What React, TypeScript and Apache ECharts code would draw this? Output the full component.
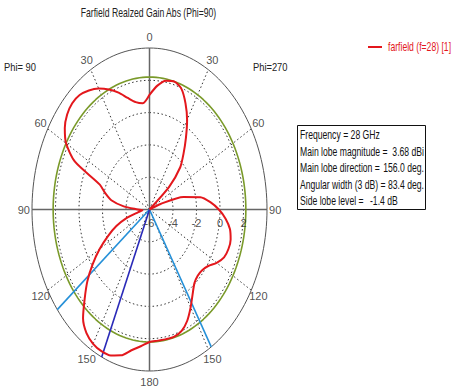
import React, { useEffect, useRef } from "react";
import * as echarts from "echarts";

// ---- data ----
const titleText = "Farfield Realzed Gain Abs (Phi=90)";
const seriesName = "farfield (f=28) [1]";
const centerGain = -6; // gain at the plot centre
const outerGain = 4; // gain at the outer ellipse
const ringGains = [-4, -2, 0, 2];
const radialTickGains = [-6, -4, -2, 0, 2];
const radialTickLabels = ["-6", "-4", "-2", "0", "2"];
const solidSpokeAngles = [0, 90, 180, 270];
const dottedSpokeAngles = [30, 60, 120, 150, 210, 240, 300, 330];
const angleTickAngles = [0, 30, 60, 90, 120, 150, 180, 210, 240, 270, 300, 330];
const angleTickLabels = ["0", "30", "60", "90", "120", "150", "180", "150", "120", "90", "60", "30"];
// pattern: angle clockwise from top (right half = Phi 270, left half = Phi 90)
const patternAngles = [
  0, 5, 10, 15, 20, 25, 30, 35, 40, 45, 50, 55, 60, 65, 70, 75, 80, 85, 90, 95,
  100, 105, 110, 115, 120, 125, 130, 135, 140, 145, 150, 155, 160, 165, 170, 175,
  180, 185, 190, 195, 200, 205, 210, 215, 220, 225, 230, 235, 240, 245, 250, 255,
  260, 265, 270, 275, 280, 285, 290, 295, 300, 305, 310, 315, 320, 325, 330, 335,
  340, 345, 350, 355,
];
const patternGain = [
  1.1, 1.7, 2.1, 2.2, 1.95, 1.25, 0.4, -0.6, -1.5, -2.3, -3.8, -6, -6, -6, -5.0, -3.0, -1.6, -0.8, -0.1, 0.5,
  0.95, 1.15, 1.15, 1.0, 0.6, 0.1, -0.15, -0.2, -0.05, 0.4, 1.0, 1.6, 2.0, 2.15, 2.15, 2.15,
  2.2, 2.5, 2.85, 3.35, 3.62, 3.68, 3.6, 3.35, 2.8, 1.8, 0.9, -0.1, -1.1, -2.1, -3.0, -4.0,
  -5.0, -5.4, -5.0, -3.8, -2.7, -2.1, -1.5, 1.0, 2.2, 2.8, 3.15, 3.3, 3.25, 3.0, 2.65, 2.2,
  1.7, 1.15, 0.75, 0.6,
];
const levelGain = 2.2; // green reference circle
const mainLobeAngle = 204;
const beamEdgeAngles = [148.3, 231.7];
const phiLabels = ["Phi= 90", "Phi=270"];
const infoLabels = ["Frequency = 28 GHz", "Main lobe magnitude =", "Main lobe direction =", "Angular width (3 dB) =", "Side lobe level ="];
const infoValues = ["", "3.68 dBi", "156.0 deg.", "83.4 deg.", "-1.4 dB"];

const FONT = "'Liberation Sans', Arial, sans-serif";
const RED = "#e3171c";

const rOf = (g: number) => Math.max(0, g - centerGain);
const pt = (angleDeg: number, r: number) => {
  const a = (angleDeg * Math.PI) / 180;
  return [r * Math.sin(a), r * Math.cos(a)];
};
const circle = (r: number) => {
  const out: number[][] = [];
  for (let a = 0; a <= 360; a += 2) out.push(pt(a, r));
  return out;
};

export default function App() {
  const ref = useRef<HTMLDivElement>(null);
  useEffect(() => {
    if (!ref.current) return;
    const chart = echarts.init(ref.current, null, { renderer: "svg" });
    const R = outerGain - centerGain;

    const series: any[] = [];
    ringGains.forEach((g) => {
      series.push({
        type: "line", data: circle(rOf(g)), showSymbol: false, silent: true, clip: false,
        lineStyle: { color: "#333", width: 1, type: [1.5, 2.5] }, z: 1,
      });
    });
    series.push({
      type: "line", data: circle(R), showSymbol: false, silent: true, clip: false,
      lineStyle: { color: "#555", width: 1 }, z: 1,
    });
    dottedSpokeAngles.forEach((a) => {
      series.push({
        type: "line", data: [[0, 0], pt(a, R)], showSymbol: false, silent: true, clip: false,
        lineStyle: { color: "#333", width: 1, type: [1.5, 2.5] }, z: 1,
      });
    });
    solidSpokeAngles.forEach((a) => {
      series.push({
        type: "line", data: [[0, 0], pt(a, R)], showSymbol: false, silent: true, clip: false,
        lineStyle: { color: "#666", width: 1.5 }, z: 2,
      });
    });
    series.push({
      type: "line", data: circle(rOf(levelGain)), showSymbol: false, silent: true, clip: false,
      lineStyle: { color: "#7a9a2a", width: 1.6 }, z: 3,
    });
    beamEdgeAngles.forEach((a) => {
      series.push({
        type: "line", data: [[0, 0], pt(a, R)], showSymbol: false, silent: true, clip: false,
        lineStyle: { color: "#2590d8", width: 1.6 }, z: 4,
      });
    });
    series.push({
      type: "line", data: [[0, 0], pt(mainLobeAngle, R)], showSymbol: false, silent: true, clip: false,
      lineStyle: { color: "#2a2ab8", width: 1.6 }, z: 4,
    });
    const patData = patternAngles.map((a, i) => pt(a, rOf(patternGain[i])));
    patData.push(patData[0]);
    series.push({
      name: seriesName, type: "line", data: patData, showSymbol: false, clip: false, smooth: 0.25,
      lineStyle: { color: RED, width: 2 }, itemStyle: { color: RED }, z: 5,
    });
    series.push({
      type: "scatter", symbolSize: 1, silent: true, clip: false, itemStyle: { color: "rgba(0,0,0,0)" },
      data: radialTickGains.map((g, i) => [rOf(g), 0, radialTickLabels[i]]),
      label: {
        show: true, formatter: (p: any) => p.data[2], position: "bottom", distance: 7,
        color: "#222", fontSize: 11, fontFamily: FONT,
      }, z: 6,
    });
    series.push({
      type: "scatter", symbolSize: 1, silent: true, clip: false, itemStyle: { color: "rgba(0,0,0,0)" },
      data: angleTickAngles.map((a, i) => [...pt(a, R * 1.07), angleTickLabels[i]]),
      label: {
        show: true, formatter: (p: any) => p.data[2], position: "inside",
        color: "#222", fontSize: 11, fontFamily: FONT,
      }, z: 6,
    });

    const SQ = 0.72;
    const infoTop = 135;
    const infoStep = 16.5;
    const graphic: any[] = [
      {
        type: "text", x: 148.5, y: 13, scaleX: SQ,
        style: { text: titleText, fill: "#222", font: `12px ${FONT}`, align: "center", verticalAlign: "middle" },
      },
      { type: "line", shape: { x1: 368, y1: 47, x2: 382, y2: 47 }, style: { stroke: RED, lineWidth: 2 } },
      {
        type: "text", x: 388, y: 47, scaleX: SQ,
        style: { text: seriesName, fill: RED, font: `12px ${FONT}`, verticalAlign: "middle" },
      },
      { type: "text", x: 4, y: 67, scaleX: 0.85, style: { text: phiLabels[0], fill: "#222", font: `11px ${FONT}`, verticalAlign: "middle" } },
      { type: "text", x: 253, y: 67, scaleX: 0.85, style: { text: phiLabels[1], fill: "#222", font: `11px ${FONT}`, verticalAlign: "middle" } },
      {
        type: "rect", shape: { x: 297.5, y: 125.5, width: 128, height: 84 },
        style: { fill: "#fff", stroke: "#111", lineWidth: 1 }, z: 10,
      },
    ];
    const valueX = [0, 424, 424, 424, 370];
    const valueAlign = ["left", "right", "right", "right", "left"];
    infoLabels.forEach((t, i) => {
      graphic.push({
        type: "text", x: 300, y: infoTop + i * infoStep, z: 11, scaleX: SQ,
        style: { text: t, fill: "#111", font: `12px ${FONT}`, verticalAlign: "middle" },
      });
      if (infoValues[i]) {
        graphic.push({
          type: "text", x: valueX[i], y: infoTop + i * infoStep, z: 11, scaleX: SQ,
          style: { text: infoValues[i], fill: "#111", font: `12px ${FONT}`, align: valueAlign[i], verticalAlign: "middle" },
        });
      }
    });

    chart.setOption({
      animation: false,
      backgroundColor: "#fff",
      grid: { left: 32, top: 48, width: 235, height: 323 },
      xAxis: { type: "value", min: -R, max: R, show: false },
      yAxis: { type: "value", min: -R, max: R, show: false },
      series,
      graphic,
    });
    return () => chart.dispose();
  }, []);
  return <div ref={ref} style={{ position: "fixed", left: 0, top: 0, width: 455, height: 392 }} />;
}
